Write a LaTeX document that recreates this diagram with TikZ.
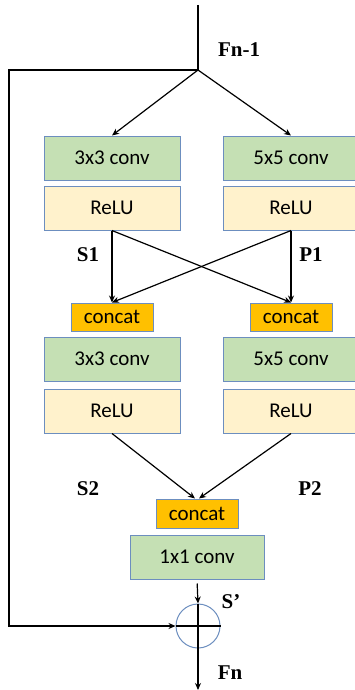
\documentclass[tikz,border=0pt]{standalone}
\usepackage{fontspec}
\setmainfont{Liberation Serif}
\newfontfamily\boxfont{Carlito}
\usetikzlibrary{arrows.meta}
\definecolor{convgreen}{HTML}{C5E0B4}
\definecolor{relucream}{HTML}{FFF2CC}
\definecolor{concatorange}{HTML}{FFC000}
\definecolor{boxborder}{HTML}{6C8EBF}
\begin{document}
\begin{tikzpicture}[x=1pt,y=-1pt,
  blk/.style={draw=boxborder, line width=1pt, minimum width=136pt, minimum height=44pt, inner sep=0pt, font=\boxfont\fontsize{21}{24}\selectfont},
  conv/.style={blk, fill=convgreen},
  relu/.style={blk, fill=relucream},
  cat/.style={blk, fill=concatorange, minimum width=82pt, minimum height=28pt},
  lbl/.style={font=\bfseries\fontsize{21}{24}\selectfont, inner sep=0pt},
  conn/.style={line width=1.2pt, draw=black},
  arr/.style={conn, -{Stealth[length=7pt,width=6pt]}}]
\useasboundingbox (0,0) rectangle (355,690);
% nodes
\node[conv] (c1a) at (112,158) {3x3 conv};
\node[conv] (c1b) at (291,158) {5x5 conv};
\node[relu] (r1a) at (112,208) {ReLU};
\node[relu] (r1b) at (291,208) {ReLU};
\node[cat] (k1a) at (112,317) {concat};
\node[cat] (k1b) at (291,317) {concat};
\node[conv] (c2a) at (112,359) {3x3 conv};
\node[conv] (c2b) at (291,359) {5x5 conv};
\node[relu] (r2a) at (112,411) {ReLU};
\node[relu] (r2b) at (291,411) {ReLU};
\node[cat, minimum height=29pt] (k2) at (197,513.5) {concat};
\node[conv, minimum width=134pt] (c3) at (197,557) {1x1 conv};
\node[circle, draw=boxborder, line width=1pt, minimum size=44pt, inner sep=0pt] (sum) at (198,626) {};
\coordinate (top) at (198,5);
\coordinate (jn) at (198,70);
\coordinate (lc1) at (9,70);
\coordinate (lc2) at (9,626);
\coordinate (out) at (198,690);
% labels
\node[lbl] (lf1) at (239,50) {Fn-1};
\node[lbl] (ls1) at (88,255) {S1};
\node[lbl] (lp1) at (311,255) {P1};
\node[lbl] (ls2) at (88,489) {S2};
\node[lbl] (lp2) at (310,489) {P2};
\node[lbl] (lsp) at (231,602) {S’};
\node[lbl] (lfn) at (230,673) {Fn};
% connectors
\draw[conn] (top) -- (jn);
\draw[arr] (jn) -- (lc1) -- (lc2) -- (sum.west);
\draw[arr] (jn) -- (c1a.north);
\draw[arr] (jn) -- (c1b.north);
\draw[arr] (r1a.south) -- (k1a.north);
\draw[arr] (r1a.south) -- (k1b.north);
\draw[arr] (r1b.south) -- (k1b.north);
\draw[arr] (r1b.south) -- (k1a.north);
\draw[arr] (r2a.south) -- ([xshift=-2pt]k2.north);
\draw[arr] (r2b.south) -- ([xshift=2pt]k2.north);
\draw[arr, shorten <=4pt] (c3.south) -- (sum.north);
\draw[conn] (sum.north) -- (sum.south);
\draw[conn] (sum.west) -- (sum.east);
\draw[arr] (sum.south) -- (out);
\end{tikzpicture}
\end{document}
